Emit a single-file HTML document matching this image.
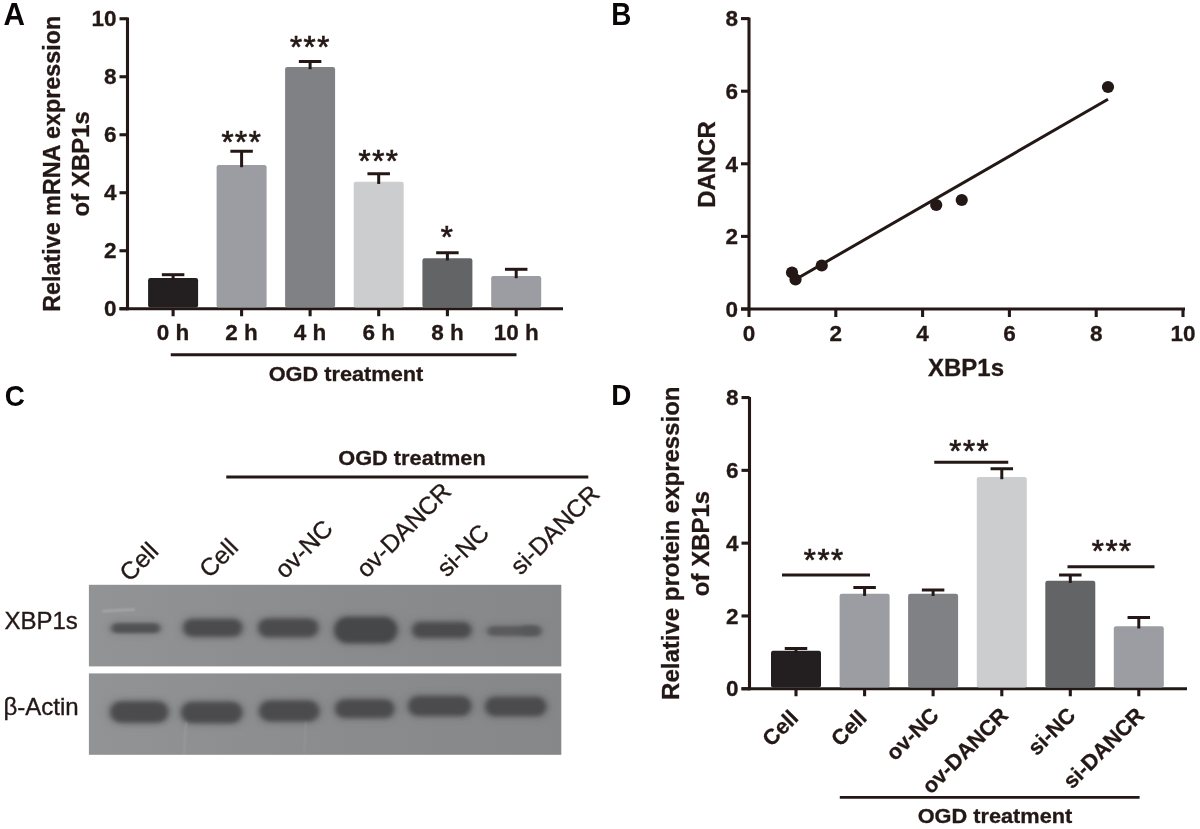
<!DOCTYPE html>
<html lang="en"><head><meta charset="utf-8"><title>Figure</title>
<style>html,body{margin:0;padding:0;background:#fff}body{width:1200px;height:829px;overflow:hidden}svg{display:block}text{fill:#231815}</style>
</head><body>
<svg width="1200" height="829" viewBox="0 0 1200 829" fill="#231815"><text transform="translate(3.4 24.9) scale(1.015 1.05)" x="0" y="0" font-size="29.3" font-family="Liberation Sans, sans-serif" font-weight="bold" style="fill:#0a0606">A</text>
<text transform="translate(611.3 24.8) scale(0.95 1.087)" x="0" y="0" font-size="29.3" font-family="Liberation Sans, sans-serif" font-weight="bold" style="fill:#0a0606">B</text>
<text transform="translate(4.8 405.7) scale(0.95 1.035)" x="0" y="0" font-size="29.3" font-family="Liberation Sans, sans-serif" font-weight="bold" style="fill:#0a0606">C</text>
<text transform="translate(611.3 405.3) scale(0.95 1.035)" x="0" y="0" font-size="29.3" font-family="Liberation Sans, sans-serif" font-weight="bold" style="fill:#0a0606">D</text>
<line x1="127.5" y1="17.5" x2="127.5" y2="310.3" stroke="#231815" stroke-width="3.1" stroke-linecap="butt"/>
<line x1="119.5" y1="308.75" x2="563" y2="308.75" stroke="#231815" stroke-width="3.1" stroke-linecap="butt"/>
<line x1="119.5" y1="308.75" x2="127.5" y2="308.75" stroke="#231815" stroke-width="3.1" stroke-linecap="butt"/>
<text x="116.5" y="316.45" font-size="22.5" text-anchor="end" font-family="Liberation Sans, sans-serif" font-weight="bold" stroke="#231815" stroke-width="0.3">0</text>
<line x1="119.5" y1="250.75" x2="127.5" y2="250.75" stroke="#231815" stroke-width="3.1" stroke-linecap="butt"/>
<text x="116.5" y="258.45" font-size="22.5" text-anchor="end" font-family="Liberation Sans, sans-serif" font-weight="bold" stroke="#231815" stroke-width="0.3">2</text>
<line x1="119.5" y1="192.75" x2="127.5" y2="192.75" stroke="#231815" stroke-width="3.1" stroke-linecap="butt"/>
<text x="116.5" y="200.45" font-size="22.5" text-anchor="end" font-family="Liberation Sans, sans-serif" font-weight="bold" stroke="#231815" stroke-width="0.3">4</text>
<line x1="119.5" y1="134.75" x2="127.5" y2="134.75" stroke="#231815" stroke-width="3.1" stroke-linecap="butt"/>
<text x="116.5" y="142.45" font-size="22.5" text-anchor="end" font-family="Liberation Sans, sans-serif" font-weight="bold" stroke="#231815" stroke-width="0.3">6</text>
<line x1="119.5" y1="76.75" x2="127.5" y2="76.75" stroke="#231815" stroke-width="3.1" stroke-linecap="butt"/>
<text x="116.5" y="84.45" font-size="22.5" text-anchor="end" font-family="Liberation Sans, sans-serif" font-weight="bold" stroke="#231815" stroke-width="0.3">8</text>
<line x1="119.5" y1="18.75" x2="127.5" y2="18.75" stroke="#231815" stroke-width="3.1" stroke-linecap="butt"/>
<text x="116.5" y="26.45" font-size="22.5" text-anchor="end" font-family="Liberation Sans, sans-serif" font-weight="bold" stroke="#231815" stroke-width="0.3">10</text>
<rect x="148.1" y="278" width="50" height="29.5" fill="#231f20" rx="2.2"/>
<line x1="173.1" y1="280.2" x2="173.1" y2="274.7" stroke="#231815" stroke-width="3.0" stroke-linecap="butt"/>
<line x1="161.85" y1="274.7" x2="184.35" y2="274.7" stroke="#231815" stroke-width="3.0" stroke-linecap="butt"/>
<line x1="173.1" y1="308.75" x2="173.1" y2="316.25" stroke="#231815" stroke-width="3.1" stroke-linecap="butt"/>
<text x="173.1" y="339.5" font-size="22.5" text-anchor="middle" font-family="Liberation Sans, sans-serif" font-weight="bold" stroke="#231815" stroke-width="0.3">0 h</text>
<rect x="216.6" y="165" width="50" height="142.5" fill="#9b9da2" rx="2.2"/>
<line x1="241.6" y1="167.2" x2="241.6" y2="151.25" stroke="#231815" stroke-width="3.0" stroke-linecap="butt"/>
<line x1="230.35" y1="151.25" x2="252.85" y2="151.25" stroke="#231815" stroke-width="3.0" stroke-linecap="butt"/>
<line x1="241.6" y1="308.75" x2="241.6" y2="316.25" stroke="#231815" stroke-width="3.1" stroke-linecap="butt"/>
<text x="241.6" y="339.5" font-size="22.5" text-anchor="middle" font-family="Liberation Sans, sans-serif" font-weight="bold" stroke="#231815" stroke-width="0.3">2 h</text>
<rect x="285.1" y="67" width="50" height="240.5" fill="#808184" rx="2.2"/>
<line x1="310.1" y1="69.2" x2="310.1" y2="61.5" stroke="#231815" stroke-width="3.0" stroke-linecap="butt"/>
<line x1="298.85" y1="61.5" x2="321.35" y2="61.5" stroke="#231815" stroke-width="3.0" stroke-linecap="butt"/>
<line x1="310.1" y1="308.75" x2="310.1" y2="316.25" stroke="#231815" stroke-width="3.1" stroke-linecap="butt"/>
<text x="310.1" y="339.5" font-size="22.5" text-anchor="middle" font-family="Liberation Sans, sans-serif" font-weight="bold" stroke="#231815" stroke-width="0.3">4 h</text>
<rect x="353.7" y="181.75" width="50" height="125.75" fill="#cbcdcf" rx="2.2"/>
<line x1="378.7" y1="183.95" x2="378.7" y2="173.75" stroke="#231815" stroke-width="3.0" stroke-linecap="butt"/>
<line x1="367.45" y1="173.75" x2="389.95" y2="173.75" stroke="#231815" stroke-width="3.0" stroke-linecap="butt"/>
<line x1="378.7" y1="308.75" x2="378.7" y2="316.25" stroke="#231815" stroke-width="3.1" stroke-linecap="butt"/>
<text x="378.7" y="339.5" font-size="22.5" text-anchor="middle" font-family="Liberation Sans, sans-serif" font-weight="bold" stroke="#231815" stroke-width="0.3">6 h</text>
<rect x="422.4" y="258.25" width="50" height="49.25" fill="#636466" rx="2.2"/>
<line x1="447.4" y1="260.45" x2="447.4" y2="252.75" stroke="#231815" stroke-width="3.0" stroke-linecap="butt"/>
<line x1="436.15" y1="252.75" x2="458.65" y2="252.75" stroke="#231815" stroke-width="3.0" stroke-linecap="butt"/>
<line x1="447.4" y1="308.75" x2="447.4" y2="316.25" stroke="#231815" stroke-width="3.1" stroke-linecap="butt"/>
<text x="447.4" y="339.5" font-size="22.5" text-anchor="middle" font-family="Liberation Sans, sans-serif" font-weight="bold" stroke="#231815" stroke-width="0.3">8 h</text>
<rect x="491.20000000000005" y="276" width="50" height="31.5" fill="#9b9da2" rx="2.2"/>
<line x1="516.2" y1="278.2" x2="516.2" y2="269.3" stroke="#231815" stroke-width="3.0" stroke-linecap="butt"/>
<line x1="504.95000000000005" y1="269.3" x2="527.45" y2="269.3" stroke="#231815" stroke-width="3.0" stroke-linecap="butt"/>
<line x1="516.2" y1="308.75" x2="516.2" y2="316.25" stroke="#231815" stroke-width="3.1" stroke-linecap="butt"/>
<text x="516.2" y="339.5" font-size="22.5" text-anchor="middle" font-family="Liberation Sans, sans-serif" font-weight="bold" stroke="#231815" stroke-width="0.3">10 h</text>
<text x="241.9" y="153.3" font-size="31" text-anchor="middle" font-family="Liberation Sans, sans-serif" letter-spacing="1.6" stroke="#231815" stroke-width="0.75">***</text>
<text x="310.40000000000003" y="57.8" font-size="31" text-anchor="middle" font-family="Liberation Sans, sans-serif" letter-spacing="1.6" stroke="#231815" stroke-width="0.75">***</text>
<text x="379.0" y="172" font-size="31" text-anchor="middle" font-family="Liberation Sans, sans-serif" letter-spacing="1.6" stroke="#231815" stroke-width="0.75">***</text>
<text x="447.7" y="247.8" font-size="31" text-anchor="middle" font-family="Liberation Sans, sans-serif" letter-spacing="1.6" stroke="#231815" stroke-width="0.75">*</text>
<line x1="170.75" y1="354.8" x2="516.5" y2="354.8" stroke="#231815" stroke-width="2.9" stroke-linecap="butt"/>
<text x="346" y="380.8" font-size="20.4" text-anchor="middle" font-family="Liberation Sans, sans-serif" font-weight="bold" stroke="#231815" stroke-width="0.3" textLength="154.6" lengthAdjust="spacingAndGlyphs">OGD treatment</text>
<text x="60" y="163.75" font-size="24" text-anchor="middle" font-family="Liberation Sans, sans-serif" font-weight="bold" stroke="#231815" stroke-width="0.3" transform="rotate(-90 60 163.75)" textLength="296" lengthAdjust="spacingAndGlyphs">Relative mRNA expression</text>
<text x="88.75" y="163.75" font-size="24" text-anchor="middle" font-family="Liberation Sans, sans-serif" font-weight="bold" stroke="#231815" stroke-width="0.3" transform="rotate(-90 88.75 163.75)">of XBP1s</text>
<line x1="749" y1="17.5" x2="749" y2="310.55" stroke="#231815" stroke-width="3.1" stroke-linecap="butt"/>
<line x1="741" y1="309.0" x2="1185" y2="309.0" stroke="#231815" stroke-width="3.1" stroke-linecap="butt"/>
<line x1="741" y1="309.0" x2="749" y2="309.0" stroke="#231815" stroke-width="3.1" stroke-linecap="butt"/>
<text x="738" y="316.7" font-size="22.5" text-anchor="end" font-family="Liberation Sans, sans-serif" font-weight="bold" stroke="#231815" stroke-width="0.3">0</text>
<line x1="741" y1="236.4" x2="749" y2="236.4" stroke="#231815" stroke-width="3.1" stroke-linecap="butt"/>
<text x="738" y="244.1" font-size="22.5" text-anchor="end" font-family="Liberation Sans, sans-serif" font-weight="bold" stroke="#231815" stroke-width="0.3">2</text>
<line x1="741" y1="163.8" x2="749" y2="163.8" stroke="#231815" stroke-width="3.1" stroke-linecap="butt"/>
<text x="738" y="171.5" font-size="22.5" text-anchor="end" font-family="Liberation Sans, sans-serif" font-weight="bold" stroke="#231815" stroke-width="0.3">4</text>
<line x1="741" y1="91.20000000000002" x2="749" y2="91.20000000000002" stroke="#231815" stroke-width="3.1" stroke-linecap="butt"/>
<text x="738" y="98.90000000000002" font-size="22.5" text-anchor="end" font-family="Liberation Sans, sans-serif" font-weight="bold" stroke="#231815" stroke-width="0.3">6</text>
<line x1="741" y1="18.600000000000023" x2="749" y2="18.600000000000023" stroke="#231815" stroke-width="3.1" stroke-linecap="butt"/>
<text x="738" y="26.300000000000022" font-size="22.5" text-anchor="end" font-family="Liberation Sans, sans-serif" font-weight="bold" stroke="#231815" stroke-width="0.3">8</text>
<line x1="749.0" y1="309.0" x2="749.0" y2="317.0" stroke="#231815" stroke-width="3.1" stroke-linecap="butt"/>
<text x="749.0" y="341.3" font-size="22.5" text-anchor="middle" font-family="Liberation Sans, sans-serif" font-weight="bold" stroke="#231815" stroke-width="0.3">0</text>
<line x1="835.8" y1="309.0" x2="835.8" y2="317.0" stroke="#231815" stroke-width="3.1" stroke-linecap="butt"/>
<text x="835.8" y="341.3" font-size="22.5" text-anchor="middle" font-family="Liberation Sans, sans-serif" font-weight="bold" stroke="#231815" stroke-width="0.3">2</text>
<line x1="922.6" y1="309.0" x2="922.6" y2="317.0" stroke="#231815" stroke-width="3.1" stroke-linecap="butt"/>
<text x="922.6" y="341.3" font-size="22.5" text-anchor="middle" font-family="Liberation Sans, sans-serif" font-weight="bold" stroke="#231815" stroke-width="0.3">4</text>
<line x1="1009.4" y1="309.0" x2="1009.4" y2="317.0" stroke="#231815" stroke-width="3.1" stroke-linecap="butt"/>
<text x="1009.4" y="341.3" font-size="22.5" text-anchor="middle" font-family="Liberation Sans, sans-serif" font-weight="bold" stroke="#231815" stroke-width="0.3">6</text>
<line x1="1096.2" y1="309.0" x2="1096.2" y2="317.0" stroke="#231815" stroke-width="3.1" stroke-linecap="butt"/>
<text x="1096.2" y="341.3" font-size="22.5" text-anchor="middle" font-family="Liberation Sans, sans-serif" font-weight="bold" stroke="#231815" stroke-width="0.3">8</text>
<line x1="1183.0" y1="309.0" x2="1183.0" y2="317.0" stroke="#231815" stroke-width="3.1" stroke-linecap="butt"/>
<text x="1183.0" y="341.3" font-size="22.5" text-anchor="middle" font-family="Liberation Sans, sans-serif" font-weight="bold" stroke="#231815" stroke-width="0.3">10</text>
<line x1="793.75" y1="280.5" x2="1108" y2="99.25" stroke="#231815" stroke-width="3" stroke-linecap="butt"/>
<circle cx="792" cy="272.5" r="6.1" fill="#231815"/>
<circle cx="795.5" cy="279.5" r="6.1" fill="#231815"/>
<circle cx="821.75" cy="265.5" r="6.1" fill="#231815"/>
<circle cx="936.25" cy="205" r="6.1" fill="#231815"/>
<circle cx="961.75" cy="200" r="6.1" fill="#231815"/>
<circle cx="1108" cy="87" r="6.1" fill="#231815"/>
<text x="966" y="376.3" font-size="24" text-anchor="middle" font-family="Liberation Sans, sans-serif" font-weight="bold" stroke="#231815" stroke-width="0.3">XBP1s</text>
<text x="714.5" y="164.5" font-size="24" text-anchor="middle" font-family="Liberation Sans, sans-serif" font-weight="bold" stroke="#231815" stroke-width="0.3" transform="rotate(-90 714.5 164.5)">DANCR</text>
<line x1="749.5" y1="397" x2="749.5" y2="690.3" stroke="#231815" stroke-width="3.1" stroke-linecap="butt"/>
<line x1="741.5" y1="688.75" x2="1187" y2="688.75" stroke="#231815" stroke-width="3.1" stroke-linecap="butt"/>
<line x1="741.5" y1="688.75" x2="749.5" y2="688.75" stroke="#231815" stroke-width="3.1" stroke-linecap="butt"/>
<text x="738.5" y="696.45" font-size="22.5" text-anchor="end" font-family="Liberation Sans, sans-serif" font-weight="bold" stroke="#231815" stroke-width="0.3">0</text>
<line x1="741.5" y1="615.95" x2="749.5" y2="615.95" stroke="#231815" stroke-width="3.1" stroke-linecap="butt"/>
<text x="738.5" y="623.6500000000001" font-size="22.5" text-anchor="end" font-family="Liberation Sans, sans-serif" font-weight="bold" stroke="#231815" stroke-width="0.3">2</text>
<line x1="741.5" y1="543.15" x2="749.5" y2="543.15" stroke="#231815" stroke-width="3.1" stroke-linecap="butt"/>
<text x="738.5" y="550.85" font-size="22.5" text-anchor="end" font-family="Liberation Sans, sans-serif" font-weight="bold" stroke="#231815" stroke-width="0.3">4</text>
<line x1="741.5" y1="470.35" x2="749.5" y2="470.35" stroke="#231815" stroke-width="3.1" stroke-linecap="butt"/>
<text x="738.5" y="478.05" font-size="22.5" text-anchor="end" font-family="Liberation Sans, sans-serif" font-weight="bold" stroke="#231815" stroke-width="0.3">6</text>
<line x1="741.5" y1="397.55" x2="749.5" y2="397.55" stroke="#231815" stroke-width="3.1" stroke-linecap="butt"/>
<text x="738.5" y="405.25" font-size="22.5" text-anchor="end" font-family="Liberation Sans, sans-serif" font-weight="bold" stroke="#231815" stroke-width="0.3">8</text>
<rect x="771" y="650.75" width="50" height="36.75" fill="#231f20" rx="2.2"/>
<line x1="796" y1="652.95" x2="796" y2="648.5" stroke="#231815" stroke-width="3.0" stroke-linecap="butt"/>
<line x1="784.75" y1="648.5" x2="807.25" y2="648.5" stroke="#231815" stroke-width="3.0" stroke-linecap="butt"/>
<line x1="796" y1="688.75" x2="796" y2="696.25" stroke="#231815" stroke-width="3.1" stroke-linecap="butt"/>
<text x="799.5" y="719.25" font-size="21.7" text-anchor="end" font-family="Liberation Sans, sans-serif" font-weight="bold" stroke="#231815" stroke-width="0.3" transform="rotate(-45 799.5 719.25)">Cell</text>
<rect x="839.6" y="593.75" width="50" height="93.75" fill="#9b9da2" rx="2.2"/>
<line x1="864.6" y1="595.95" x2="864.6" y2="587.5" stroke="#231815" stroke-width="3.0" stroke-linecap="butt"/>
<line x1="853.35" y1="587.5" x2="875.85" y2="587.5" stroke="#231815" stroke-width="3.0" stroke-linecap="butt"/>
<line x1="864.6" y1="688.75" x2="864.6" y2="696.25" stroke="#231815" stroke-width="3.1" stroke-linecap="butt"/>
<text x="868.1" y="719.25" font-size="21.7" text-anchor="end" font-family="Liberation Sans, sans-serif" font-weight="bold" stroke="#231815" stroke-width="0.3" transform="rotate(-45 868.1 719.25)">Cell</text>
<rect x="908.1" y="593.75" width="50" height="93.75" fill="#808184" rx="2.2"/>
<line x1="933.1" y1="595.95" x2="933.1" y2="590" stroke="#231815" stroke-width="3.0" stroke-linecap="butt"/>
<line x1="921.85" y1="590" x2="944.35" y2="590" stroke="#231815" stroke-width="3.0" stroke-linecap="butt"/>
<line x1="933.1" y1="688.75" x2="933.1" y2="696.25" stroke="#231815" stroke-width="3.1" stroke-linecap="butt"/>
<text x="940.1" y="716.55" font-size="21.7" text-anchor="end" font-family="Liberation Sans, sans-serif" font-weight="bold" stroke="#231815" stroke-width="0.3" transform="rotate(-45 940.1 716.55)">ov-NC</text>
<rect x="976.8" y="477" width="50" height="210.5" fill="#cbcdcf" rx="2.2"/>
<line x1="1001.8" y1="479.2" x2="1001.8" y2="468.75" stroke="#231815" stroke-width="3.0" stroke-linecap="butt"/>
<line x1="990.55" y1="468.75" x2="1013.05" y2="468.75" stroke="#231815" stroke-width="3.0" stroke-linecap="butt"/>
<line x1="1001.8" y1="688.75" x2="1001.8" y2="696.25" stroke="#231815" stroke-width="3.1" stroke-linecap="butt"/>
<text x="1009.3" y="716.55" font-size="21.7" text-anchor="end" font-family="Liberation Sans, sans-serif" font-weight="bold" stroke="#231815" stroke-width="0.3" transform="rotate(-45 1009.3 716.55)">ov-DANCR</text>
<rect x="1045.3" y="580.75" width="50" height="106.75" fill="#636466" rx="2.2"/>
<line x1="1070.3" y1="582.95" x2="1070.3" y2="575" stroke="#231815" stroke-width="3.0" stroke-linecap="butt"/>
<line x1="1059.05" y1="575" x2="1081.55" y2="575" stroke="#231815" stroke-width="3.0" stroke-linecap="butt"/>
<line x1="1070.3" y1="688.75" x2="1070.3" y2="696.25" stroke="#231815" stroke-width="3.1" stroke-linecap="butt"/>
<text x="1076.8" y="716.55" font-size="21.7" text-anchor="end" font-family="Liberation Sans, sans-serif" font-weight="bold" stroke="#231815" stroke-width="0.3" transform="rotate(-45 1076.8 716.55)">si-NC</text>
<rect x="1113.8" y="626.25" width="50" height="61.25" fill="#9b9da2" rx="2.2"/>
<line x1="1138.8" y1="628.45" x2="1138.8" y2="617.5" stroke="#231815" stroke-width="3.0" stroke-linecap="butt"/>
<line x1="1127.55" y1="617.5" x2="1150.05" y2="617.5" stroke="#231815" stroke-width="3.0" stroke-linecap="butt"/>
<line x1="1138.8" y1="688.75" x2="1138.8" y2="696.25" stroke="#231815" stroke-width="3.1" stroke-linecap="butt"/>
<text x="1145.3" y="716.55" font-size="21.7" text-anchor="end" font-family="Liberation Sans, sans-serif" font-weight="bold" stroke="#231815" stroke-width="0.3" transform="rotate(-45 1145.3 716.55)">si-DANCR</text>
<line x1="782" y1="575" x2="870" y2="575" stroke="#231815" stroke-width="3" stroke-linecap="butt"/>
<text x="824.3" y="570.5" font-size="31" text-anchor="middle" font-family="Liberation Sans, sans-serif" letter-spacing="1.6" stroke="#231815" stroke-width="0.75">***</text>
<line x1="934.25" y1="462.25" x2="1008.25" y2="462.25" stroke="#231815" stroke-width="3" stroke-linecap="butt"/>
<text x="969.8" y="462" font-size="31" text-anchor="middle" font-family="Liberation Sans, sans-serif" letter-spacing="1.6" stroke="#231815" stroke-width="0.75">***</text>
<line x1="1067.5" y1="566.75" x2="1154.5" y2="566.75" stroke="#231815" stroke-width="3" stroke-linecap="butt"/>
<text x="1112.3" y="561.5" font-size="31" text-anchor="middle" font-family="Liberation Sans, sans-serif" letter-spacing="1.6" stroke="#231815" stroke-width="0.75">***</text>
<line x1="839.8" y1="797.4" x2="1139.6" y2="797.4" stroke="#231815" stroke-width="2.9" stroke-linecap="butt"/>
<text x="995" y="822.6" font-size="20.4" text-anchor="middle" font-family="Liberation Sans, sans-serif" font-weight="bold" stroke="#231815" stroke-width="0.3" textLength="154.6" lengthAdjust="spacingAndGlyphs">OGD treatment</text>
<text x="679" y="543.2" font-size="24" text-anchor="middle" font-family="Liberation Sans, sans-serif" font-weight="bold" stroke="#231815" stroke-width="0.3" transform="rotate(-90 679 543.2)">Relative protein expression</text>
<text x="708.75" y="543.5" font-size="24" text-anchor="middle" font-family="Liberation Sans, sans-serif" font-weight="bold" stroke="#231815" stroke-width="0.3" transform="rotate(-90 708.75 543.5)">of XBP1s</text>
<line x1="226.25" y1="477" x2="588.3" y2="477" stroke="#231815" stroke-width="3" stroke-linecap="butt"/>
<text x="412" y="465.3" font-size="21" text-anchor="middle" font-family="Liberation Sans, sans-serif" font-weight="bold" stroke="#231815" stroke-width="0.3" textLength="147.5" lengthAdjust="spacingAndGlyphs">OGD treatmen</text>
<text x="4.5" y="628.8" font-size="24" text-anchor="start" font-family="Liberation Sans, sans-serif" stroke="#231815" stroke-width="0.35">XBP1s</text>
<text x="3.5" y="715" font-size="24" text-anchor="start" font-family="Liberation Sans, sans-serif" stroke="#231815" stroke-width="0.35">β-Actin</text>
<text x="129.8" y="582.7" font-size="24.7" text-anchor="start" font-family="Liberation Sans, sans-serif" stroke="#231815" stroke-width="0.35" transform="rotate(-45 129.8 582.7)">Cell</text>
<text x="209.5" y="579" font-size="24.7" text-anchor="start" font-family="Liberation Sans, sans-serif" stroke="#231815" stroke-width="0.35" transform="rotate(-45 209.5 579)">Cell</text>
<text x="285" y="579.7" font-size="24.7" text-anchor="start" font-family="Liberation Sans, sans-serif" stroke="#231815" stroke-width="0.35" transform="rotate(-45 285 579.7)">ov-NC</text>
<text x="366.4" y="579.1" font-size="24.7" text-anchor="start" font-family="Liberation Sans, sans-serif" stroke="#231815" stroke-width="0.35" transform="rotate(-45 366.4 579.1)">ov-DANCR</text>
<text x="447" y="578" font-size="24.7" text-anchor="start" font-family="Liberation Sans, sans-serif" stroke="#231815" stroke-width="0.35" transform="rotate(-45 447 578)">si-NC</text>
<text x="520.5" y="576" font-size="24.7" text-anchor="start" font-family="Liberation Sans, sans-serif" stroke="#231815" stroke-width="0.35" transform="rotate(-45 520.5 576)">si-DANCR</text>
<defs><filter id="b1" x="-20%" y="-80%" width="140%" height="260%"><feGaussianBlur stdDeviation="2.6 2.2"/></filter><filter id="b2" x="-20%" y="-80%" width="140%" height="260%"><feGaussianBlur stdDeviation="2.8 1.8"/></filter><filter id="b4" x="-30%" y="-100%" width="160%" height="300%"><feGaussianBlur stdDeviation="4 3.5"/></filter><filter id="b3" x="-20%" y="-80%" width="140%" height="260%"><feGaussianBlur stdDeviation="1.2"/></filter><linearGradient id="bg" x1="0" x2="1" y1="0" y2="0"><stop offset="0" stop-color="#929395"/><stop offset="0.5" stop-color="#8b8c8e"/><stop offset="1" stop-color="#868789"/></linearGradient><clipPath id="c1"><rect x="88.9" y="584.8" width="472.4" height="81.6"/></clipPath><clipPath id="c2"><rect x="88.9" y="673.4" width="472.4" height="81.4"/></clipPath></defs>
<rect x="88.9" y="584.8" width="472.4" height="81.6" fill="url(#bg)"/>
<rect x="88.9" y="673.4" width="472.4" height="81.4" fill="url(#bg)"/>
<g clip-path="url(#c1)">
<rect x="109.5" y="621.3000000000001" width="52.5" height="13.8" rx="6.9" fill="#56575a" opacity="0.3" filter="url(#b4)"/>
<rect x="111.5" y="623.3000000000001" width="48.5" height="9.8" rx="4.9" fill="#4e4f51" opacity="0.92" filter="url(#b2)"/>
<rect x="181.5" y="617.4" width="62.5" height="20.8" rx="10.4" fill="#56575a" opacity="0.5" filter="url(#b4)"/>
<rect x="183.5" y="619.4" width="58.5" height="16.8" rx="8.4" fill="#4b4c4e" opacity="1" filter="url(#b1)"/>
<rect x="256.5" y="616.9" width="63.5" height="21.8" rx="10.9" fill="#56575a" opacity="0.5" filter="url(#b4)"/>
<rect x="258.5" y="618.9" width="59.5" height="17.8" rx="8.9" fill="#4b4c4e" opacity="1" filter="url(#b1)"/>
<rect x="332.5" y="615.35" width="66.5" height="29.3" rx="14.65" fill="#56575a" opacity="0.5" filter="url(#b4)"/>
<rect x="334.5" y="617.35" width="62.5" height="25.3" rx="12.65" fill="#454648" opacity="1" filter="url(#b1)"/>
<rect x="410.5" y="620.6" width="62.5" height="18.8" rx="9.4" fill="#56575a" opacity="0.5" filter="url(#b4)"/>
<rect x="412.5" y="622.6" width="58.5" height="14.8" rx="7.4" fill="#4b4c4e" opacity="1" filter="url(#b1)"/>
<rect x="485.5" y="624.35" width="57.5" height="13.3" rx="6.65" fill="#56575a" opacity="0.3" filter="url(#b4)"/>
<rect x="487.5" y="626.35" width="53.5" height="9.3" rx="4.65" fill="#58595b" opacity="0.9" filter="url(#b2)"/>
<rect x="518.5" y="623.1" width="23.0" height="14.8" rx="7.4" fill="#56575a" opacity="0.0" filter="url(#b4)"/>
<rect x="520.5" y="625.1" width="19.0" height="10.8" rx="5.4" fill="#555658" opacity="0.6" filter="url(#b2)"/>
<rect x="102" y="609.6" width="33" height="1.6" fill="#b9babc" opacity="0.8" filter="url(#b3)" transform="rotate(-3 118 610)"/>
</g><g clip-path="url(#c2)">
<rect x="108.5" y="699.85" width="61.5" height="24.3" rx="12.15" fill="#56575a" opacity="0.5" filter="url(#b4)"/>
<rect x="110.5" y="701.85" width="57.5" height="20.3" rx="10.15" fill="#4b4c4e" opacity="1" filter="url(#b1)"/>
<rect x="179.5" y="700.35" width="64.5" height="24.3" rx="12.15" fill="#56575a" opacity="0.5" filter="url(#b4)"/>
<rect x="181.5" y="702.35" width="60.5" height="20.3" rx="10.15" fill="#4b4c4e" opacity="1" filter="url(#b1)"/>
<rect x="257.5" y="699.1" width="63.5" height="23.8" rx="11.9" fill="#56575a" opacity="0.5" filter="url(#b4)"/>
<rect x="259.5" y="701.1" width="59.5" height="19.8" rx="9.9" fill="#4b4c4e" opacity="1" filter="url(#b1)"/>
<rect x="333.5" y="697.8000000000001" width="62.5" height="21.8" rx="10.9" fill="#56575a" opacity="0.5" filter="url(#b4)"/>
<rect x="335.5" y="699.8000000000001" width="58.5" height="17.8" rx="8.9" fill="#4b4c4e" opacity="1" filter="url(#b1)"/>
<rect x="406.5" y="694.6" width="66.5" height="22.8" rx="11.4" fill="#56575a" opacity="0.5" filter="url(#b4)"/>
<rect x="408.5" y="696.6" width="62.5" height="18.8" rx="9.4" fill="#4b4c4e" opacity="1" filter="url(#b1)"/>
<rect x="483.5" y="695.35" width="64.5" height="22.3" rx="11.15" fill="#56575a" opacity="0.5" filter="url(#b4)"/>
<rect x="485.5" y="697.35" width="60.5" height="18.3" rx="9.15" fill="#4b4c4e" opacity="1" filter="url(#b1)"/>
<rect x="184" y="722" width="2" height="33" fill="#a9aaac" opacity="0.4" filter="url(#b3)" transform="rotate(4 185 738)"/>
<rect x="304" y="722" width="2" height="33" fill="#a0a1a3" opacity="0.35" filter="url(#b3)" transform="rotate(3 305 738)"/>
</g></svg>
</body></html>
